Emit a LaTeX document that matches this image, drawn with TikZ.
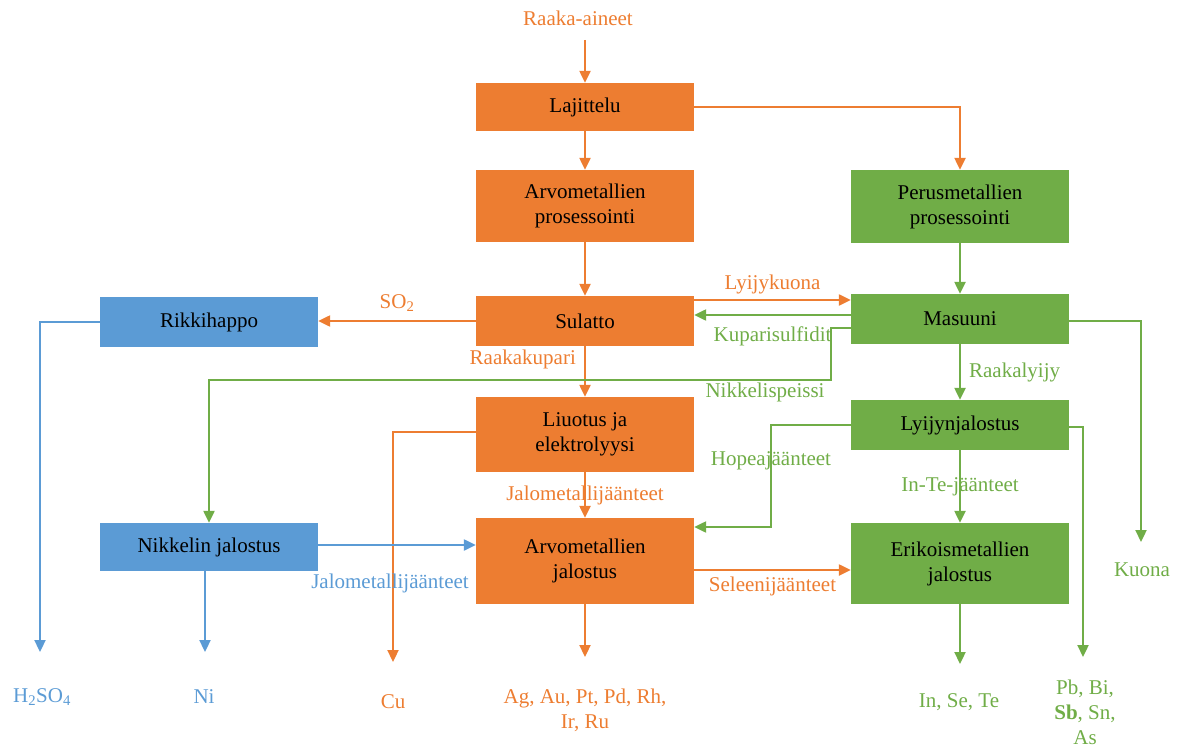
\documentclass[tikz,border=0pt]{standalone}
\usepackage{fontspec}
\setmainfont{Liberation Serif}
\usetikzlibrary{arrows.meta}
\definecolor{cor}{HTML}{ED7D31}
\definecolor{cgr}{HTML}{70AD47}
\definecolor{cbl}{HTML}{5B9BD5}
\begin{document}
\begin{tikzpicture}[x=1pt,y=-1pt,
  font=\fontsize{21}{25}\selectfont,
  box/.style={minimum width=218pt, inner sep=0pt, align=center, text=black},
  obox/.style={box, fill=cor},
  gbox/.style={box, fill=cgr},
  bbox/.style={box, fill=cbl},
  conn/.style={line width=2.3pt, -{Triangle[length=12pt,width=11pt]}},
  oc/.style={conn, draw=cor},
  gc/.style={conn, draw=cgr},
  bc/.style={conn, draw=cbl},
  olab/.style={text=cor, inner sep=0pt},
  glab/.style={text=cgr, inner sep=0pt},
  blab/.style={text=cbl, inner sep=0pt},
]
\useasboundingbox (0,0) rectangle (1184,749);

% boxes
\node[obox, minimum height=48pt] (laj) at (585,107) {Lajittelu};
\node[obox, minimum height=72pt] (arvp) at (585,206) {Arvometallien\\prosessointi};
\node[gbox, minimum height=73pt] (perp) at (960,206.5) {Perusmetallien\\prosessointi};
\node[obox, minimum height=50pt] (sul) at (585,321) {Sulatto};
\node[gbox, minimum height=50pt] (mas) at (960,319) {Masuuni};
\node[bbox, minimum height=50pt] (rik) at (209,322) {Rikkihappo};
\node[obox, minimum height=75pt] (liu) at (585,434.5) {Liuotus ja\\elektrolyysi};
\node[gbox, minimum height=50pt] (lyi) at (960,425) {Lyijynjalostus};
\node[bbox, minimum height=48pt] (nik) at (209,547) {Nikkelin jalostus};
\node[obox, minimum height=86pt] (arvj) at (585,561) {Arvometallien\\jalostus};
\node[gbox, minimum height=81pt] (eri) at (960,563.5) {Erikoismetallien\\jalostus};

% end texts
\node[olab] (raaka) at (578,18) {Raaka-aineet};
\node[blab] (h2so4) at (42,697) {H\textsubscript{2}SO\textsubscript{4}};
\node[blab] (ni) at (204,697) {Ni};
\node[olab] (cu) at (393,702) {Cu};
\node[olab, align=center] (ag) at (585,710) {Ag, Au, Pt, Pd, Rh,\\Ir, Ru};
\node[glab] (inse) at (959,702) {In, Se, Te};
\node[glab, align=center] (pb) at (1085,712) {Pb, Bi,\\\textbf{Sb}, Sn,\\As};
\node[glab] (kuona) at (1142,570) {Kuona};

% free ends
\coordinate (rtop) at (585,40);
\coordinate (h2e) at (40,652);
\coordinate (nie) at (205,652);
\coordinate (cue) at (393,662);
\coordinate (age) at (585,657);
\coordinate (ine) at (960,664);
\coordinate (pbe) at (1083,657);
\coordinate (kue) at (1141,542);

% orange flow
\draw[oc] (rtop) -- (laj.north);
\draw[oc] (laj.east) -| (perp.north);
\draw[oc] (laj.south) -- (arvp.north);
\draw[oc] (arvp.south) -- (sul.north);
\draw[oc] (sul.east |- 0,300) -- (mas.west |- 0,300)
  node[olab, midway, above=5pt] {Lyijykuona};
\draw[oc] (sul.west) -- (rik.east |- sul.west)
  node[olab, midway, above=8pt] {SO\textsubscript{2}};
\draw[oc] (sul.south) -- (liu.north)
  node[olab, pos=0.27, left=8pt] {Raakakupari};
\draw[oc] (liu.west |- 0,432) -| (cue);
\draw[oc] (liu.south) -- (arvj.north)
  node[olab, midway] {Jalometallijäänteet};
\draw[oc] (arvj.south) -- (age);
\draw[oc] (arvj.east |- 0,570) -- (eri.west |- 0,570)
  node[olab, midway, below=6pt] {Seleenijäänteet};

% green flow
\draw[gc] (perp.south) -- (mas.north);
\draw[gc] (mas.west |- 0,315) -- (sul.east |- 0,315)
  node[glab, midway, below=11pt] {Kuparisulfidit};
\draw[gc] (mas.west |- 0,328) -- (831,328) -- (831,380) -| (nik.north);
\node[glab] (nikl) at (765,392) {Nikkelispeissi};
\draw[gc] (mas.south) -- (lyi.north)
  node[glab, midway, right=8pt] {Raakalyijy};
\draw[gc] (mas.east |- 0,321) -| (kue);
\draw[gc] (lyi.west) -- (771,425) |- (arvj.east |- 0,527);
\node[glab] (hope) at (771,461) {Hopeajäänteet};
\draw[gc] (lyi.south) -- (eri.north)
  node[glab, midway] {In-Te-jäänteet};
\draw[gc] (eri.south) -- (ine);
\draw[gc] (lyi.east |- 0,427) -| (pbe);

% blue flow
\draw[bc] (rik.west) -| (h2e);
\draw[bc] (nik.east |- 0,545) -- (arvj.west |- 0,545);
\node[blab] (jalb) at (390,583) {Jalometallijäänteet};
\draw[bc] (nik.south -| nie) -- (nie);
\end{tikzpicture}
\end{document}
